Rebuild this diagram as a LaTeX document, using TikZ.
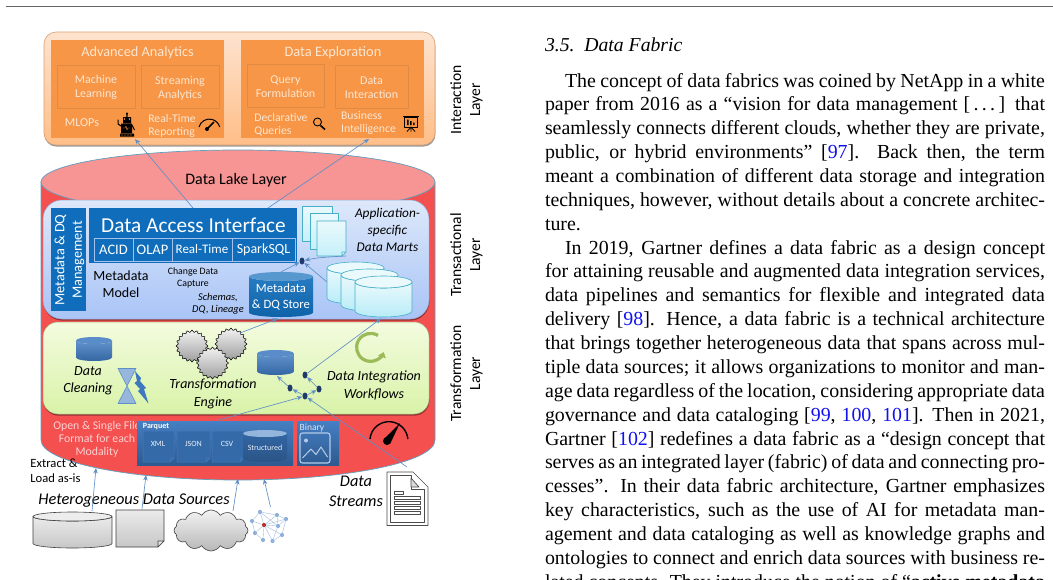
\documentclass[tikz,border=0pt]{standalone}
\usepackage{fontspec}
\setmainfont{Liberation Serif}
\setsansfont{Carlito}
\usetikzlibrary{arrows.meta,shapes.geometric,shapes.symbols,shadows}
\definecolor{arrowc}{HTML}{5F8FC8}
\definecolor{orpanel}{HTML}{F79646}
\definecolor{oredge}{HTML}{DF8A45}
\definecolor{orlabel}{HTML}{FBE6D2}
\definecolor{pinkc}{HTML}{F79494}
\definecolor{redc}{HTML}{F45050}
\definecolor{edgeb}{HTML}{5FA0BE}
\definecolor{ablue}{HTML}{0F6DBB}
\definecolor{dotb}{HTML}{1F3A68}
\definecolor{citeb}{HTML}{1010F0}
\definecolor{tealc}{HTML}{45AFC8}
\definecolor{cylb}{HTML}{3C78C0}
\definecolor{itop}{HTML}{FDE3CF}
\definecolor{ibot}{HTML}{FFBE88}
\definecolor{ttop}{HTML}{DDE8FA}
\definecolor{tbot}{HTML}{A9C4F6}
\definecolor{ftop}{HTML}{F3FBDF}
\definecolor{fbot}{HTML}{D9F3A8}
\definecolor{mtop}{HTML}{EAF9FC}
\definecolor{mbot}{HTML}{B8ECF8}
\definecolor{circg}{HTML}{9BBB59}
\newcommand{\fsz}[2]{\fontsize{#1}{#2}\selectfont}
% name, x1,y1,x2,y2, style, text
\newcommand{\bx}[7]{%
  \pgfmathsetmacro\bxw{#4-#2}\pgfmathsetmacro\bxh{#5-#3}%
  \node[minimum width=\bxw pt,minimum height=\bxh pt,inner sep=0pt,outer sep=0pt,align=center,#6] (#1) at ({(#2+#4)/2},{(#3+#5)/2}) {#7};}
% x1,x2,ytop,ybot,ry, body style, cap style
\newcommand{\cyl}[7]{%
  \pgfmathsetmacro\cylrx{(#2-#1)/2}\pgfmathsetmacro\cylcx{(#1+#2)/2}%
  \path[#6] (#1,#3+#5) -- (#1,#4-#5) arc[start angle=180,end angle=0,x radius=\cylrx,y radius=#5] -- (#2,#3+#5) arc[start angle=0,end angle=180,x radius=\cylrx,y radius=#5] -- cycle;
  \path[#7] (\cylcx,#3+#5) ellipse [x radius=\cylrx,y radius=#5];}
% x1,y1,x2,y2,fold, style
\newcommand{\docic}[6]{%
  \path[#6] (#1,#2) -- (#3,#2) -- (#3,#4-#5) -- (#3-#5,#4) -- (#1,#4) -- cycle;
  \path[#6] (#3,#4-#5) -- (#3-#5,#4-#5) -- (#3-#5,#4) -- cycle;}
\tikzset{
  lbl/.style={inner sep=0pt,outer sep=0pt,align=center,font=\sffamily},
  arr/.style={draw=arrowc,line width=.65pt,-{Stealth[length=5.5pt,width=4.5pt]}},
  sh/.style={drop shadow={shadow xshift=.4pt,shadow yshift=-1.6pt,opacity=.4,fill=black}},
  inbox/.style={draw=oredge,line width=.6pt,lbl,text=orlabel,font=\sffamily\fsz{12}{14}},
  orbox/.style={fill=orpanel},
  orsm/.style={lbl,text=orlabel,align=left,font=\sffamily\fsz{11.7}{13}},
  subb/.style={draw=blue!10!white!70!ablue,line width=.7pt,lbl,text=white},
  dotn/.style={ellipse,fill=dotb,minimum width=5pt,minimum height=7pt,inner sep=0pt},
  capt/.style={lbl,font=\sffamily\itshape\fsz{14}{17.3},text=black},
  lay/.style={lbl,rotate=90,font=\sffamily\fsz{15.6}{19},text=black},
  blucyl/.style={top color=cylb!80!white,bottom color=cylb!85!black},
  blucap/.style={fill=cylb!85!white},
  martb/.style={draw=tealc,line width=.6pt,top color=mtop,bottom color=mbot},
  martc/.style={draw=tealc,line width=.6pt,fill=mtop},
  pg/.style={draw=tealc,line width=.6pt,top color=mtop,bottom color=mbot!80!white},
  wdoc/.style={draw=white!60!black!10!cylb,line width=.5pt,fill=cylb!88!black},
  grayc/.style={draw=black!75,line width=.6pt,top color=white!92!black,bottom color=white!78!black},
  gearn/.style={star,star points=20,star point ratio=1.17,minimum size=32pt,inner sep=0pt,draw=black,line width=.5pt,top color=white!95!black,bottom color=white!62!black},
  nwn/.style={circle,fill=arrowc!70!white,minimum size=4.2pt,inner sep=0pt},
  nwl/.style={draw=arrowc!60!white,line width=.4pt},
  pqs/.style={top color=cylb!95!white,bottom color=cylb!75!black,drop shadow={shadow xshift=.4pt,shadow yshift=-1pt,opacity=.35,fill=black}},
  pqt/.style={lbl,text=white!90!cylb,font=\sffamily\fsz{8}{9}},
}
\begin{document}
\begin{tikzpicture}[x=1pt,y=-1pt,line join=round]
\useasboundingbox (0,0) rectangle (1053,579);
\fill[white] (0,0) rectangle (1053,579);
\draw[black!60,line width=1pt] (6,6.5) -- (1053,6.5);

% ---- interaction layer
\bx{ipanel}{44}{32}{435}{145}{rounded corners=12pt,draw=ibot!85!black,line width=.6pt,top color=itop,bottom color=ibot,sh}{}
\bx{aa}{51}{40}{224}{138}{orbox}{}
\bx{de}{241}{40}{424}{138}{orbox}{}
\node[lbl,text=orlabel,font=\sffamily\fsz{14.3}{17}] (aat) at (137.5,53) {Advanced Analytics};
\node[lbl,text=orlabel,font=\sffamily\fsz{14.4}{17}] (det) at (333,53) {Data Exploration};
\bx{ml}{57}{65}{135}{108}{inbox}{\\[-3pt]Machine\\Learning}
\bx{sa}{141}{65}{219}{108}{inbox}{\\[-3pt]Streaming\\Analytics}
\bx{qf}{247}{64}{324}{107}{inbox}{\\[-3pt]Query\\Formulation}
\bx{di}{335}{65}{408}{108}{inbox}{\\[-3pt]Data\\Interaction}
\node[lbl,text=orlabel,font=\sffamily\fsz{12.2}{14.5}] (mlops) at (82,122.5) {MLOPs};
\node[orsm] (rtr) at (172,125.5) {Real-Time\\Reporting};
\node[orsm] (dq) at (281,124.5) {Declarative\\Queries};
\node[orsm] (bi) at (368.5,123) {Business\\Intelligence};
% robot
\fill[black] (123,117) rectangle (131,123) (126.4,113.5) rectangle (127.6,117) (121,123.5) rectangle (132,133) (120,133.5) rectangle (134,136.5);
\fill[black] (127,113.5) circle (1.1);
\draw[black,line width=1pt] (121,126) -- (118,124) -- (118,119.5) (132,125) -- (134.5,130);
\fill[orpanel] (124.5,119) circle (.8) (129.5,119) circle (.8);
\draw[orpanel,line width=.4pt] (123,128) -- (125,128) -- (126,126) -- (127,130) -- (128,128) -- (130.5,128);
\foreach \tx in {122,125,128,131}{\fill[orpanel] (\tx,135) circle (.7);}
% small gauge
\draw[black,line width=1pt] (199,127) arc[start angle=-165,end angle=-15,radius=10.7];
\draw[black,line width=1.6pt] (207,129) -- (214,122);
\fill[black] (207,129) circle (2);
% magnifier
\draw[black,line width=.9pt] (317.5,122) circle (4);
\draw[black,line width=1.6pt] (320.5,125.5) -- (325,129.5);
% presentation
\draw[black,line width=1pt] (403,116.5) -- (419,116.5);
\draw[black,line width=.9pt] (404.5,117) rectangle (417.5,127);
\fill[black] (407,125) rectangle (408.6,119.5) (410,125) rectangle (411.6,121) (413,125) rectangle (414.6,122.5);
\draw[black,line width=.8pt] (411,127) -- (411,131.5) (411,127) -- (407,131.5) (411,127) -- (415,131.5);

\node[lay] (lint) at (466.5,100) {Interaction\\Layer};
\node[lay] (ltra) at (466.5,255) {Transactional\\Layer};
\node[lay] (ltrf) at (466.5,373.5) {Transformation\\Layer};

% ---- lake cylinder
\path[draw=edgeb,line width=.7pt,fill=redc] (41,182) -- (41,440) arc[start angle=180,end angle=0,x radius=197,y radius=40] -- (435,182) -- cycle;
\path[draw=edgeb,line width=.7pt,fill=pinkc] (238,182) ellipse [x radius=197,y radius=32];
\node[lbl,font=\sffamily\fsz{16}{17},text=black] (dll) at (236,180) {Data Lake Layer};

% ---- transactional panel
\bx{tpanel}{43}{200}{429}{319}{rounded corners=19pt,draw=tbot!85!black,line width=.5pt,top color=ttop,bottom color=tbot,sh}{}
\bx{mdq}{51}{208}{86}{311}{fill=ablue}{}
\node[lbl,rotate=90,text=white,font=\sffamily\fsz{14.3}{17.5}] (mdqt) at (69.5,260) {Metadata \& DQ\\Management};
\bx{dai}{89}{208}{297}{263}{fill=ablue}{}
\node[lbl,text=white,font=\sffamily\fsz{21.3}{23}] (dait) at (193.5,225) {Data Access Interface};
\bx{acid}{94}{238}{133}{261}{subb,font=\sffamily\fsz{14.5}{16}}{ACID}
\bx{olap}{133}{238}{172}{261}{subb,font=\sffamily\fsz{14.5}{16}}{OLAP}
\bx{rt}{172}{238}{232}{261}{subb,font=\sffamily\fsz{13}{15}}{Real-Time}
\bx{ssql}{232}{238}{295}{261}{subb,font=\sffamily\fsz{14}{16}}{SparkSQL}
\node[lbl,text=black,font=\sffamily\fsz{14}{16.5}] (mdm) at (121,284) {Metadata\\Model};
\node[lbl,text=black,font=\sffamily\fsz{9.8}{12}] (cdc) at (193,278) {Change Data\\Capture};
\node[lbl,text=black,font=\sffamily\itshape\fsz{10.4}{12.5}] (sdl) at (218,304) {Schemas,\\DQ, Lineage};
% store
\cyl{249}{313}{272}{317}{4.5}{top color=ablue!90!white,bottom color=ablue!90!black}{fill=ablue!70!white}
\node[lbl,text=white,font=\sffamily\fsz{12.7}{16}] (mds) at (281,297) {Metadata\\\& DQ Store};
\coordinate (mdsb) at (278,318.5);
\coordinate (mdst) at (281,272);
% pages
\docic{302}{206}{332}{241}{0}{pg}
\docic{310}{213}{338}{249}{0}{pg}
\docic{317}{221}{346}{256}{4}{pg}
\node[lbl,text=black,font=\sffamily\itshape\fsz{13.3}{17}] (adm) at (387.5,230) {Application-\\specific\\Data Marts};
% marts
\cyl{327}{384}{262}{304}{6}{martb}{martc}
\cyl{341}{398}{269}{311}{6}{martb}{martc}
\cyl{355}{412}{276}{317}{6}{martb}{martc}
\node[dotn] (d0) at (302,261) {};
\coordinate (mart1) at (327,282);
\coordinate (page3) at (346,256);
\coordinate (mart3b) at (381,318.5);

% ---- transformation panel
\bx{fpanel}{43}{322}{429}{414}{rounded corners=15pt,draw=fbot!75!black,line width=.5pt,top color=ftop,bottom color=fbot,sh}{}
\cyl{76}{112}{337}{361}{3.5}{blucyl}{blucap}
\node[capt] (dc) at (88,380.5) {Data\\Cleaning};
\draw[draw=arrowc,line width=.6pt,fill=arrowc!65!white] (118,368.5) -- (136,368.5) -- (118,403.5) -- (136,403.5) -- cycle;
\fill[cylb] (135,371) -- (141,378) -- (140,381) -- (146,388) -- (144,389) -- (148.5,403.5) -- (138,391) -- (140,389) -- (134.5,383) -- (137,381) -- cycle;
\node[gearn] (g1) at (192,346) {};
\node[gearn] (g2) at (231,344) {};
\node[gearn] (g3) at (212.5,363) {};
\node[capt] (te) at (213,394) {Transformation\\Engine};
\cyl{257}{294}{350}{375}{3.5}{blucyl}{blucap}
\coordinate (cylb0) at (277,376);
\draw[circg,line width=3.2pt,-{Triangle[length=5pt,width=8pt]}] (378,335.5) arc[start angle=-58,end angle=-340,radius=14];
\node[capt] (diw) at (374,385.5) {Data Integration\\Workflows};
\node[dotn] (d1) at (290,388) {};
\node[dotn] (d2) at (305,375) {};
\node[dotn] (d3) at (305,396) {};
\node[dotn] (d4) at (319,389) {};

% ---- storage formats
\node[lbl,text=white!82!red,font=\sffamily\fsz{11.8}{13}] (osf) at (97,439.5) {Open \& Single File\\Format for each\\Modality};
\bx{pq}{137}{421}{293}{465}{pqs}{}
\node[lbl,text=white,font=\sffamily\bfseries\fsz{8}{9}] (pqtl) at (156,426.5) {Parquet};
\docic{143}{431}{174}{462}{4}{wdoc}
\docic{177}{431}{210}{462}{4}{wdoc}
\docic{212}{431}{244}{462}{4}{wdoc}
\node[pqt] (xml) at (158,443.5) {XML};
\node[pqt] (json) at (193.5,443.5) {JSON};
\node[pqt] (csv) at (227,443.5) {CSV};
\cyl{243}{287}{430}{462}{3.5}{top color=cylb!85!black,bottom color=cylb!70!black}{fill=cylb!55!white}
\node[pqt] (strc) at (265,448) {Structured};
\bx{bin}{297}{421}{339}{465}{pqs}{}
\node[lbl,text=white!82!cylb,font=\sffamily\fsz{9.5}{10}] (bint) at (312,427.5) {Binary};
\draw[white!62!cylb,line width=1.1pt,rounded corners=2.5pt] (300,433) rectangle (330,463);
\fill[white!62!cylb] (306,440.5) circle (2);
\draw[white!62!cylb,line width=1pt] (302.5,458) -- (311,449) -- (316,454.5) -- (321,447) -- (327.5,457);
% big gauge
\draw[black,line width=1.4pt] (370,439) arc[start angle=-175,end angle=-5,radius=19];
\fill[black] (387,441) circle (4);
\fill[black] (400,423) -- (384,439) -- (390,444) -- cycle;

% ---- sources
\node[lbl,text=black,align=left,font=\sffamily\fsz{12.6}{15}] (elt) at (55.5,470.5) {Extract \&\\Load as-is};
\cyl{33}{112}{512}{548}{4.5}{grayc}{draw=black!75,line width=.6pt,fill=white!93!black}
\docic{116}{510}{164}{547}{6}{grayc}
\node[cloud,cloud puffs=12,cloud puff arc=120,minimum width=74pt,minimum height=41pt,aspect=1.8,inner sep=0pt,draw=black!75,line width=.6pt,top color=white!95!black,bottom color=white!72!black] (cld) at (211,530.5) {};
\node[lbl,text=black,font=\sffamily\itshape\fsz{16.4}{20}] (hds) at (134,501) {Heterogeneous Data Sources};
\node[capt,font=\sffamily\itshape\fsz{16.3}{20}] (dst) at (356,491) {Data\\Streams};
% network
\node[nwn,fill=red!65!black!80] (n0) at (264,525) {};
\node[nwn] (n1) at (252,521) {};
\node[nwn] (n2) at (260,512) {};
\node[nwn] (n3) at (277,515) {};
\node[nwn] (n4) at (286,519) {};
\node[nwn] (n5) at (278,526) {};
\node[nwn] (n6) at (282,535) {};
\node[nwn] (n7) at (272.5,541) {};
\node[nwn] (n8) at (263,540) {};
\node[nwn] (n9) at (255,533) {};
\foreach \a in {n1,n2,n3,n4,n5,n6,n7,n8,n9}{\draw[nwl] (n0) -- (\a);}
\draw[nwl] (n1) -- (n2) -- (n3) -- (n4) -- (n6) -- (n7) (n1) -- (n9) -- (n8) (n3) -- (n5) -- (n4) (n2) -- (n5) (n5) -- (n7);
% stream doc
\path[draw=black!70,line width=.7pt,fill=white] (387,472) -- (413,472) -- (428,487) -- (428,525.5) -- (387,525.5) -- cycle;
\path[draw=black!70,line width=.7pt,fill=white] (390.5,475.5) -- (411,475.5) -- (411,489) -- (424.5,489) -- (424.5,522) -- (390.5,522) -- cycle;
\path[draw=black!70,line width=.7pt,fill=black!15] (411,478) -- (419,487) -- (411,487) -- cycle;
\draw[black!70,line width=.6pt] (394.5,491.5) rectangle (403,494);
\foreach \yy in {496.5,501.5,506.5,511.5}{\draw[black!70,line width=.6pt] (394.5,\yy) rectangle (420,\yy+2.5);}

% ---- connector end points
\coordinate (daia) at (193,208);
\coordinate (daib) at (268,208);
\coordinate (roboa) at (135,139);
\coordinate (bia) at (369,139);
\coordinate (gtop) at (240,333);
\coordinate (pqt0) at (217,420.5);
\coordinate (s1) at (92,511);
\coordinate (t1) at (96,468);
\coordinate (s2) at (142,509);
\coordinate (t2) at (146,475);
\coordinate (s3) at (233,511);
\coordinate (t3) at (238,479);
\coordinate (s4) at (270.5,507);
\coordinate (t4) at (264,479);
\coordinate (sd) at (407,467);

% ---- connectors
\draw[arr] (daia) -- (roboa);
\draw[arr] (daib) -- (bia);
\draw[arr] (mdst) -- (d0);
\draw[arr] (mart1) -- (d0);
\draw[arr] (page3) .. controls (325,257) and (315,258) .. (d0);
\draw[arr] (gtop) -- (mdsb);
\draw[arr] (d2) -- (mart3b);
\draw[arr] (d1) -- (cylb0);
\draw[arr] (d3) -- (d1);
\draw[arr] (d3) -- (d4);
\draw[arr] (d4) -- (d2);
\draw[arr] (pqt0) -- (d3);
\draw[arr] (sd) -- (d3);
\draw[arr] (s1) -- (t1);
\draw[arr] (s2) -- (t2);
\draw[arr] (s3) -- (t3);
\draw[arr] (s4) -- (t4);

% ---- page text
\node[inner sep=0pt,outer sep=0pt,anchor=base west,font=\fsz{19.7}{24}\itshape] (sec) at (545,51) {3.5.\ \ Data Fabric};
\node[inner sep=0pt,outer sep=0pt,anchor=base west] (body) at (545,87) {\parbox[t]{500pt}{\fsz{19.9}{23.87}\parindent=20pt\parskip=0pt\hyphenpenalty=10000\emergencystretch=10pt
\indent The concept of data fabrics was coined by NetApp in a white\linebreak
paper from 2016 as a “vision for data management [\,.\,.\,.\,] that\linebreak
seamlessly connects different clouds, whether they are private,\linebreak
public, or hybrid environments” [\textcolor{citeb}{97}]. Back then, the term\linebreak
meant a combination of different data storage and integration\linebreak
techniques, however, without details about a concrete architec-\linebreak
ture.\par
\indent In 2019, Gartner defines a data fabric as a design concept\linebreak
for attaining reusable and augmented data integration services,\linebreak
data pipelines and semantics for flexible and integrated data\linebreak
delivery [\textcolor{citeb}{98}]. Hence, a data fabric is a technical architecture\linebreak
that brings together heterogeneous data that spans across mul-\linebreak
tiple data sources; it allows organizations to monitor and man-\linebreak
age data regardless of the location, considering appropriate data\linebreak
governance and data cataloging [\textcolor{citeb}{99}, \textcolor{citeb}{100}, \textcolor{citeb}{101}]. Then in 2021,\linebreak
Gartner [\textcolor{citeb}{102}] redefines a data fabric as a “design concept that\linebreak
serves as an integrated layer (fabric) of data and connecting pro-\linebreak
cesses”. In their data fabric architecture, Gartner emphasizes\linebreak
key characteristics, such as the use of AI for metadata man-\linebreak
agement and data cataloging as well as knowledge graphs and\linebreak
ontologies to connect and enrich data sources with business re-\linebreak
lated concepts. They introduce the notion of “\textbf{active metadata}\linebreak”.\par}};
\end{tikzpicture}
\end{document}
